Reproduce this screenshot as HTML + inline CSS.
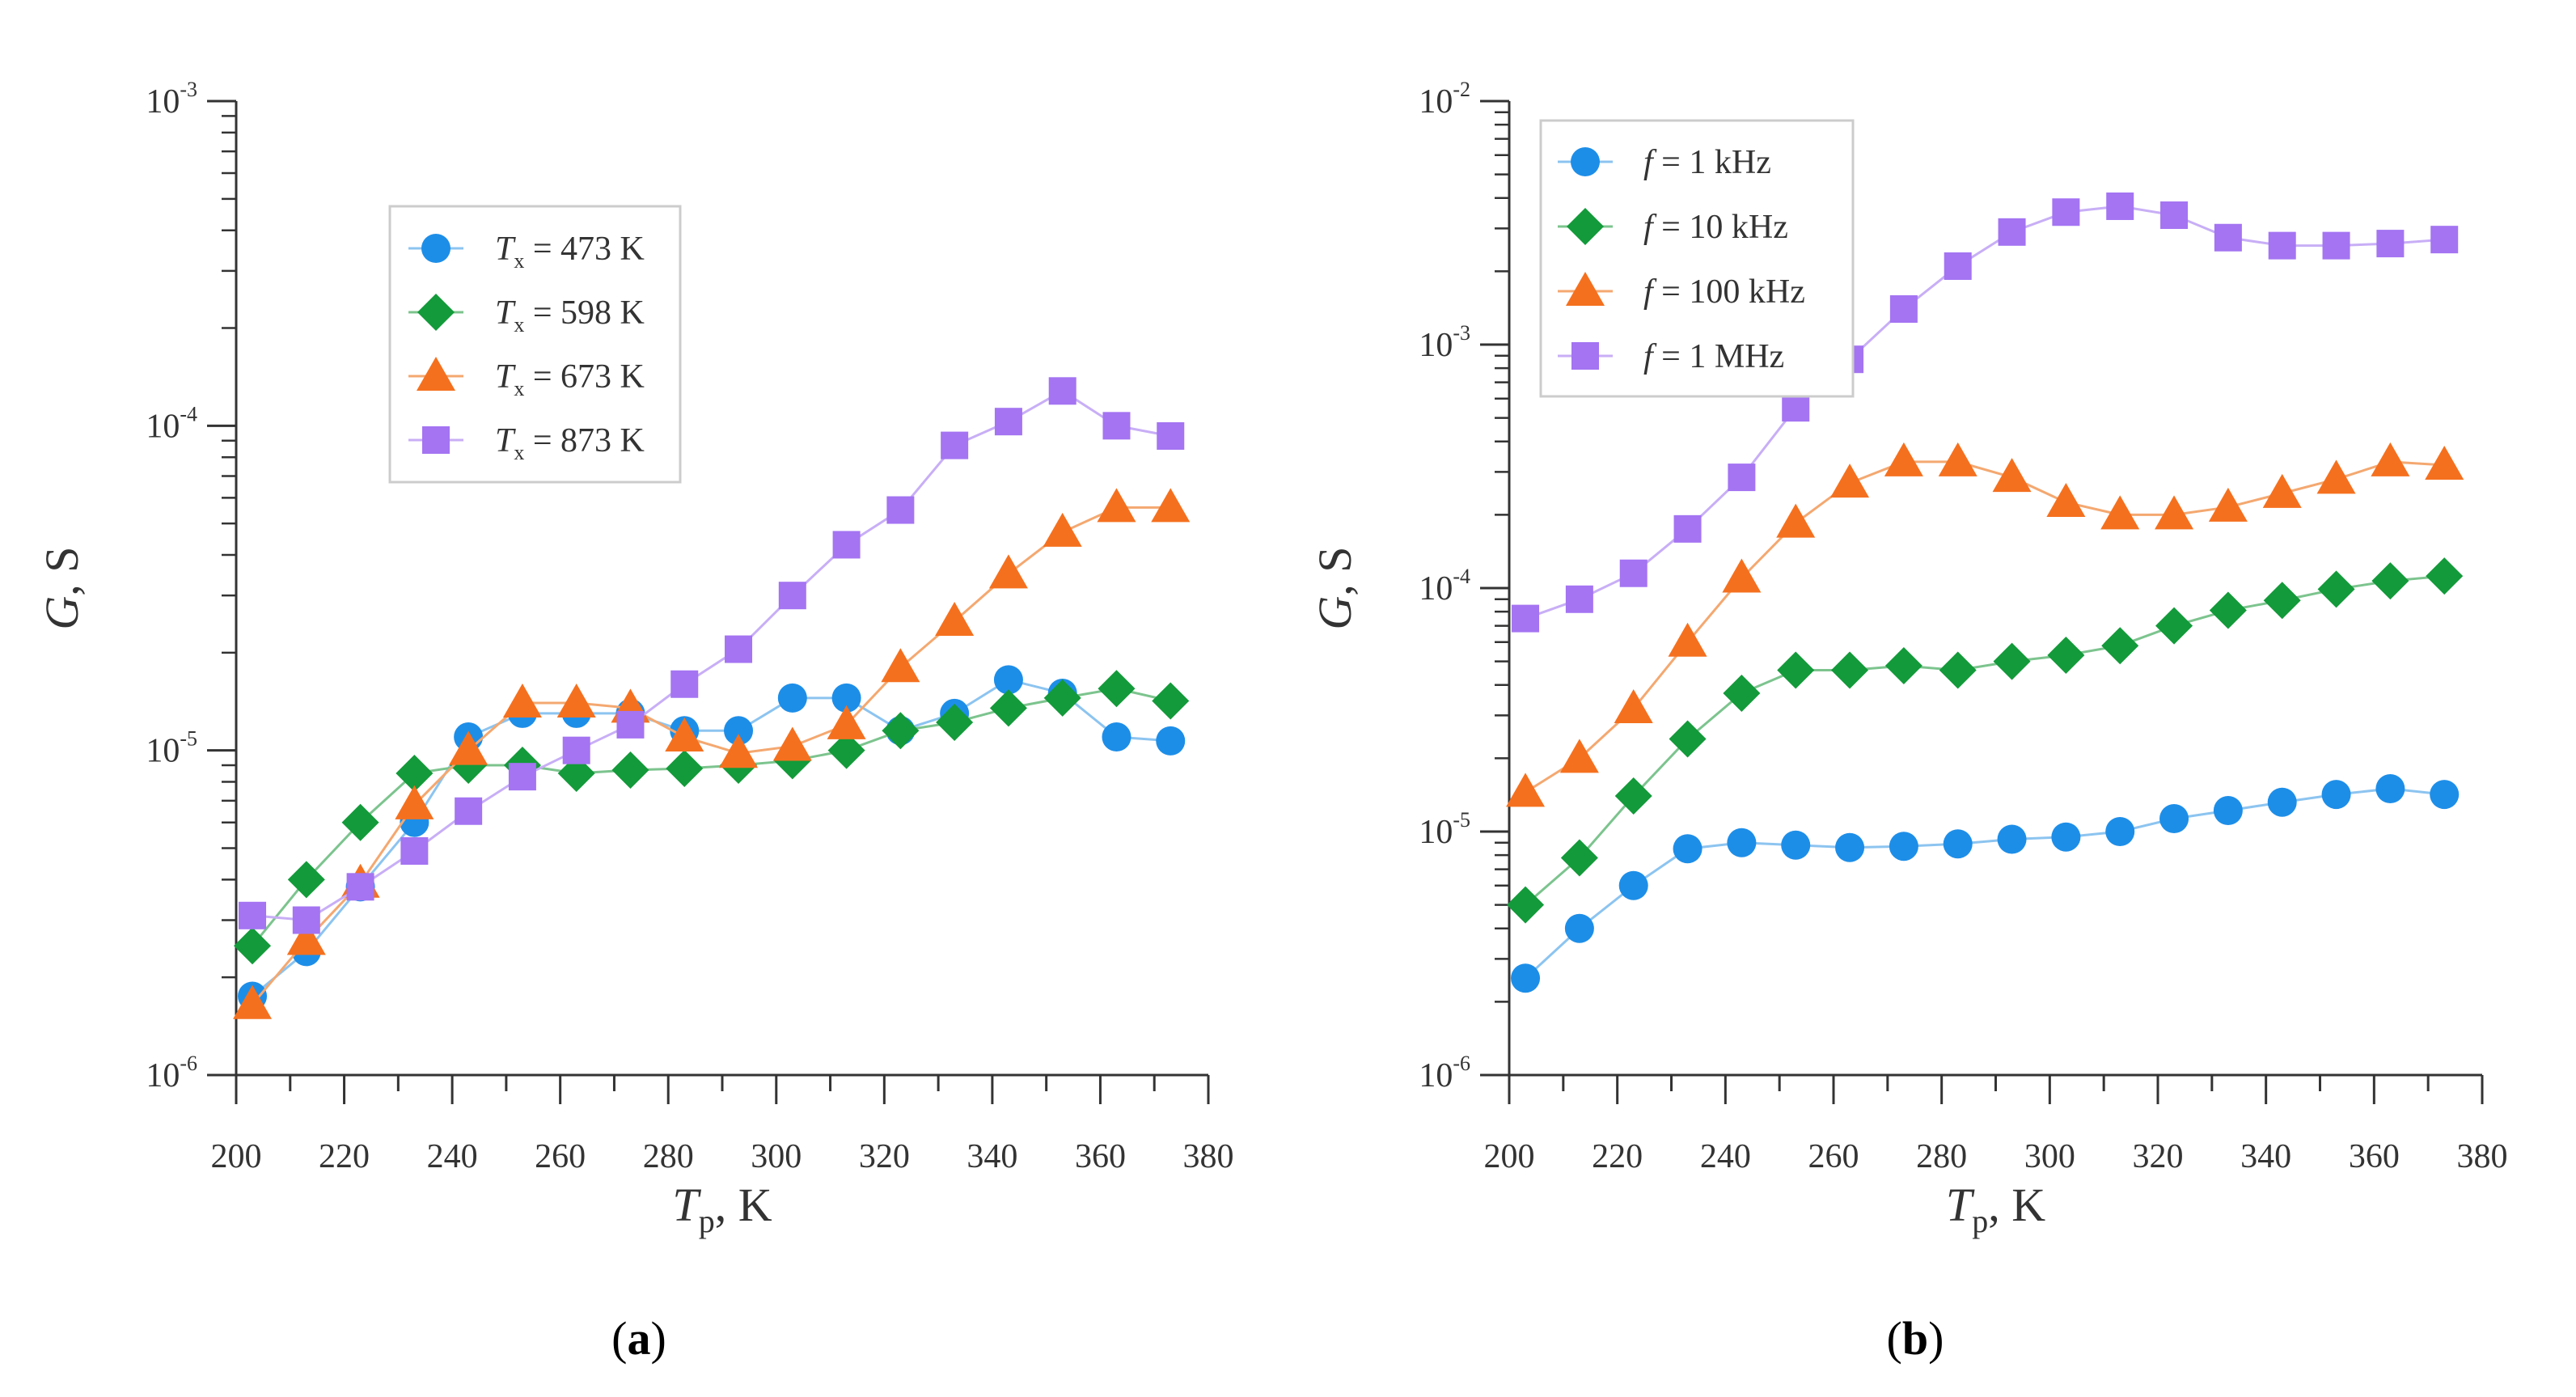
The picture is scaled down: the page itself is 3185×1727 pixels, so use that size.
<!DOCTYPE html>
<html><head><meta charset="utf-8"><style>
html,body{margin:0;padding:0;background:#fff;}
svg{display:block;font-family:"Liberation Serif",serif;}
</style></head><body>
<svg id="fig" width="3185" height="1727" viewBox="0 0 3185 1727" xmlns="http://www.w3.org/2000/svg">
<rect width="3185" height="1727" fill="#fff"/>
<g id="panelA"></g>
<g id="panelB"></g>
<text x="790" y="1674" font-size="58" text-anchor="middle">(<tspan font-weight="bold">a</tspan>)</text>
<text x="2368" y="1674" font-size="58" text-anchor="middle">(<tspan font-weight="bold">b</tspan>)</text>
</svg>
<script>
const temps = [203,213,223,233,243,253,263,273,283,293,303,313,323,333,343,353,363,373];
const xTicks = [200,220,240,260,280,300,320,340,360,380];
const a473 = [1.75e-6,2.4e-6,3.8e-6,6e-6,1.1e-5,1.3e-5,1.3e-5,1.3e-5,1.15e-5,1.15e-5,1.45e-5,1.45e-5,1.15e-5,1.3e-5,1.65e-5,1.5e-5,1.1e-5,1.07e-5];
const a598 = [2.5e-6,4e-6,6e-6,8.5e-6,9e-6,9e-6,8.5e-6,8.7e-6,8.8e-6,9e-6,9.3e-6,1.0e-5,1.15e-5,1.22e-5,1.35e-5,1.45e-5,1.55e-5,1.42e-5];
const a673 = [1.65e-6,2.6e-6,3.9e-6,6.8e-6,1.0e-5,1.4e-5,1.4e-5,1.35e-5,1.1e-5,9.8e-6,1.03e-5,1.2e-5,1.8e-5,2.5e-5,3.5e-5,4.7e-5,5.6e-5,5.6e-5];
const a873 = [3.1e-6,3.0e-6,3.8e-6,4.9e-6,6.5e-6,8.3e-6,1.0e-5,1.2e-5,1.6e-5,2.05e-5,3.0e-5,4.3e-5,5.5e-5,8.7e-5,1.03e-4,1.28e-4,1.0e-4,9.3e-5];
const b1k = [2.5e-6,4e-6,6e-6,8.5e-6,9e-6,8.8e-6,8.6e-6,8.7e-6,8.9e-6,9.3e-6,9.5e-6,1.0e-5,1.13e-5,1.22e-5,1.32e-5,1.42e-5,1.5e-5,1.42e-5];
const b10k = [5e-6,7.8e-6,1.4e-5,2.4e-5,3.7e-5,4.6e-5,4.6e-5,4.8e-5,4.6e-5,5e-5,5.3e-5,5.8e-5,7e-5,8.1e-5,8.9e-5,9.9e-5,1.07e-4,1.12e-4];
const b100k = [1.45e-5,2.0e-5,3.2e-5,6.0e-5,1.1e-4,1.85e-4,2.7e-4,3.3e-4,3.3e-4,2.85e-4,2.25e-4,2.0e-4,2.0e-4,2.15e-4,2.45e-4,2.8e-4,3.3e-4,3.2e-4];
const b1M = [7.5e-5,9e-5,1.15e-4,1.75e-4,2.85e-4,5.5e-4,8.7e-4,1.4e-3,2.1e-3,2.9e-3,3.5e-3,3.7e-3,3.4e-3,2.75e-3,2.55e-3,2.55e-3,2.6e-3,2.7e-3];
const aLabels = ["473","598","673","873"];
const bLabels = ["1 kHz","10 kHz","100 kHz","1 MHz"];

const NS="http://www.w3.org/2000/svg";
const COLORS=["#1d8ee8","#139a3a","#f5701e","#a474f2"];
const LINE=["#8cc4f0","#7cc48e","#f4a870","#c8aef6"];
const SHAPES=["circle","diamond","triangle","square"];
function mk(tag,attrs,parent){const e=document.createElementNS(NS,tag);for(const k in attrs)e.setAttribute(k,attrs[k]);parent.appendChild(e);return e;}
function marker(g,shape,x,y,c){
  let e;
  if(shape==="circle") e=mk("circle",{cx:x,cy:y,r:18,fill:c},g);
  else if(shape==="diamond") e=mk("polygon",{points:`${x},${y-23} ${x+23},${y} ${x},${y+23} ${x-23},${y}`,fill:c},g);
  else if(shape==="triangle") e=mk("polygon",{points:`${x},${y-24} ${x+24},${y+18} ${x-24},${y+18}`,fill:c},g);
  else e=mk("rect",{x:x-17,y:y-17,width:34,height:34,fill:c},g);
  return e;
}
function panel(g,X0,X1,Y0,Y1,expTop,expBot,series,labels,legend,prefix,xt){
  const sx=v=>X0+(v-200)/180*(X1-X0);
  const sy=v=>Y1-(Math.log10(v)-expBot)/(expTop-expBot)*(Y1-Y0);
  const ax=mk("g",{},g);
  
  
  mk("line",{x1:X0,y1:Y0,x2:X0,y2:Y1,stroke:"#333","stroke-width":3},ax);
  mk("line",{x1:X0,y1:Y1,x2:X1,y2:Y1,stroke:"#333","stroke-width":3},ax);
  for(let e=expBot;e<=expTop;e++){
    const y=sy(Math.pow(10,e));
    mk("line",{x1:X0-36,y1:y,x2:X0,y2:y,stroke:"#333","stroke-width":3},ax);
    const t=mk("text",{x:X0-48,y:y+14,"font-size":42,"text-anchor":"end",fill:"#333"},ax);
    
    
    t.innerHTML=`10<tspan font-size="26" dy="-20">${e}</tspan>`;
    if(e<expTop) for(let m=2;m<=9;m++){const yy=sy(m*Math.pow(10,e));mk("line",{x1:X0-18,y1:yy,x2:X0,y2:yy,stroke:"#333","stroke-width":2.5},ax);}
  }
  for(let v=200;v<=380;v+=10){
    const x=sx(v);const major=v%20===0;
    mk("line",{x1:x,y1:Y1,x2:x,y2:Y1+(major?36:20),stroke:"#333","stroke-width":3},ax);
  }
  xt.forEach(v=>{const t=mk("text",{x:sx(v),y:Y1+114,"font-size":42,"text-anchor":"middle",fill:"#333"},ax);t.textContent=v;
    
    });
  const xtit=mk("text",{x:(X0+X1)/2,y:Y1+180,"font-size":58,"text-anchor":"middle",fill:"#333"},ax);
  
  
  xtit.innerHTML=`<tspan font-style="italic">T</tspan><tspan font-size="40" dy="14">p</tspan><tspan dy="-14">, K</tspan>`;
  const yc=(Y0+Y1)/2, yx=X0-196;
  const ytit=mk("text",{x:yx,y:yc,"font-size":58,"text-anchor":"middle",fill:"#333",transform:`rotate(-90 ${yx} ${yc})`},ax);
  
  
  ytit.innerHTML=`<tspan font-style="italic">G</tspan>, S`;
  series.forEach((d,i)=>{
    const sg=mk("g",{},g);
    
    
    const pts=d.map((v,j)=>sx(temps[j])+","+sy(v)).join(" ");
    mk("polyline",{points:pts,fill:"none",stroke:LINE[i],"stroke-width":3},sg);
    d.forEach((v,j)=>{const m=marker(sg,SHAPES[i],sx(temps[j]),sy(v),COLORS[i]);
      
      });
  });
  const lg=mk("g",{},g);
  
  
  mk("rect",{x:legend.x,y:legend.y,width:legend.w,height:legend.h,fill:"#fff",stroke:"#ccc","stroke-width":3},lg);
  labels.forEach((l,i)=>{
    const y=legend.y+legend.first+i*legend.step, mx=legend.x+legend.mx;
    const eg=mk("g",{},lg);
    
    
    mk("line",{x1:mx-34,y1:y,x2:mx+34,y2:y,stroke:LINE[i],"stroke-width":3},eg);
    marker(eg,SHAPES[i],mx,y,COLORS[i]);
    const t=mk("text",{x:legend.x+legend.tx,y:y+14,"font-size":42,fill:"#333"},eg);
    t.innerHTML=prefix(l);
  });
}
panel(document.getElementById("panelA"),292,1494,125,1329,-3,-6,[a473,a598,a673,a873],aLabels,
  {x:482,y:255,w:359,h:341,first:52,step:79,mx:57,tx:130},
  l=>`<tspan font-style="italic">T</tspan><tspan font-size="26" dy="10">x</tspan><tspan dy="-10"> = ${l} K</tspan>`,xTicks);
panel(document.getElementById("panelB"),1866,3069,125,1329,-2,-6,[b1k,b10k,b100k,b1M],bLabels,
  {x:1905,y:149,w:386,h:341,first:51,step:80,mx:55,tx:127},
  l=>`<tspan font-style="italic">f</tspan> = ${l}`,xTicks);
</script>
</body></html>
